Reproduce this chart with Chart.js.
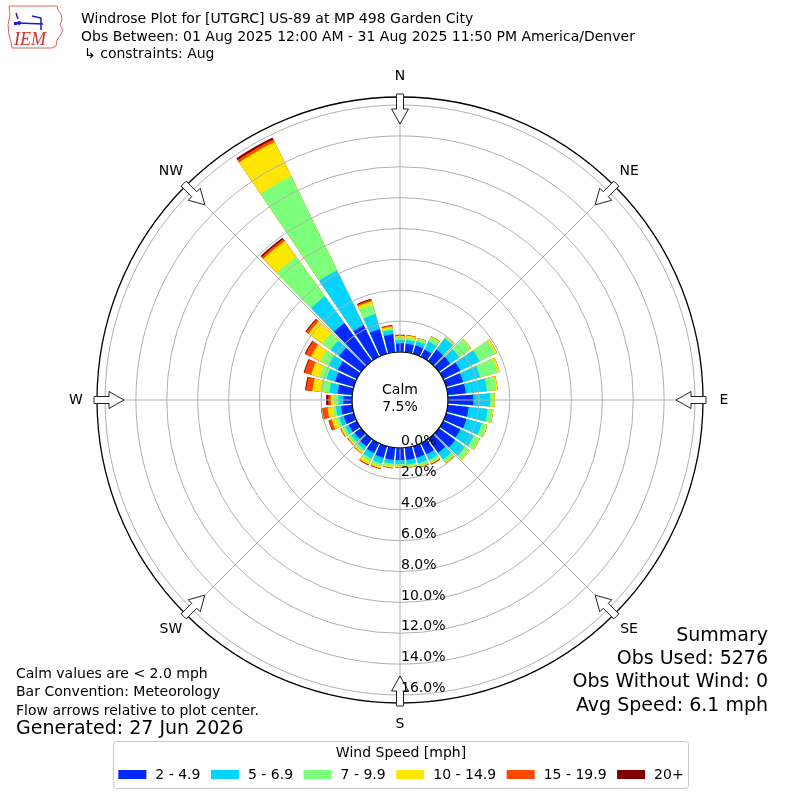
<!DOCTYPE html>
<html><head><meta charset="utf-8">
<script src="https://cdn.jsdelivr.net/npm/chart.js@4.4.1/dist/chart.umd.min.js"></script>
<style>html,body{margin:0;padding:0;background:#fff}canvas{display:block}</style>
</head><body>
<canvas id="c" width="800" height="800"></canvas>
<script>
// ---- data ----
const directions = [0,10,20,30,40,50,60,70,80,90,100,110,120,130,140,150,160,170,180,190,200,210,220,230,240,250,260,270,280,290,300,310,320,330,340,350];
const speedBins = ['2 - 4.9','5 - 6.9','7 - 9.9','10 - 14.9','15 - 19.9','20+'];
const pct2to5   = [0.56,0.55,0.56,0.52,0.91,0.91,1.23,1.14,1.17,1.64,1.36,1.36,1.23,1.30,1.10,0.80,0.78,0.78,0.78,0.78,0.78,0.71,0.58,0.52,0.58,0.68,0.73,0.56,0.95,1.26,1.36,1.75,3.04,2.27,1.67,1.17];
const pct5to7   = [0.21,0.24,0.28,0.58,0.91,0.71,1.39,1.15,1.38,1.08,1.23,1.04,0.97,0.78,0.55,0.40,0.39,0.32,0.26,0.26,0.39,0.39,0.26,0.26,0.26,0.30,0.33,0.32,0.54,0.58,0.69,0.68,2.14,3.95,1.01,0.28];
const pct7to10  = [0.18,0.16,0.19,0.32,0.06,0.91,1.13,1.18,0.60,0.21,0.32,0.32,0.39,0.32,0.20,0.20,0.19,0.13,0.13,0.16,0.19,0.23,0.19,0.19,0.19,0.23,0.22,0.28,0.55,0.45,0.57,0.68,3.17,6.80,0.64,0.11];
const pct10to15 = [0.08,0.14,0.03,0.06,0.06,0.06,0.13,0.13,0.10,0.11,0.06,0.06,0.06,0.06,0.07,0.07,0.06,0.06,0.06,0.10,0.13,0.19,0.10,0.10,0.10,0.28,0.33,0.21,0.55,0.58,0.68,1.10,1.26,2.46,0.23,0.11];
const pct15to20 = [0.07,0.02,0.01,0.01,0,0,0,0,0,0,0,0,0,0,0.01,0.06,0.03,0.02,0.02,0.03,0.05,0.06,0.03,0.03,0.03,0.19,0.40,0.16,0.42,0.46,0.39,0.19,0.16,0.19,0.10,0.08];
const pct20plus = [0.02,0.01,0.01,0.01,0,0,0,0,0,0,0,0,0,0,0.01,0.02,0.01,0.01,0.01,0.01,0.01,0.02,0.01,0.01,0.02,0.03,0.03,0.15,0.06,0.05,0.06,0.06,0.10,0.13,0.06,0.02];
const calmPct = 7.5;
const tickValues = [0,2,4,6,8,10,12,14,16];
const compassLabels = ['N','NE','E','SE','S','SW','W','NW'];
const titleLines = ['Windrose Plot for [UTGRC] US-89 at MP 498 Garden City',
  'Obs Between: 01 Aug 2025 12:00 AM - 31 Aug 2025 11:50 PM America/Denver',
  '\u21b3 constraints: Aug'];
const summaryLines = ['Summary','Obs Used: 5276','Obs Without Wind: 0','Avg Speed: 6.1 mph'];
const noteLines = ['Calm values are < 2.0 mph','Bar Convention: Meteorology','Flow arrows relative to plot center.'];
const generatedText = 'Generated: 27 Jun 2026';
const legendTitle = 'Wind Speed [mph]';

// ---- styling ----
const binColors = ['#0028ff','#00d4ff','#7cff7a','#ffe600','#ff4800','#800000'];
const rMin = -3.11, rMax = 16.52;
const barWidthDeg = 8.2;
const FONT = '"DejaVu Sans", sans-serif';

const bins = [pct2to5,pct5to7,pct7to10,pct10to15,pct15to20,pct20plus];
const cumulative = bins.map((_, k) => directions.map((d, i) => {
  let s = 0; for (let j = 0; j <= k; j++) s += bins[j][i]; return s;
}));

const toRad = d => d * Math.PI / 180;

const gapPlugin = {
  id: 'gap',
  afterDatasetsUpdate(chart) {
    const shrink = toRad((360 / directions.length - barWidthDeg) / 2);
    chart.data.datasets.forEach((ds, i) => {
      chart.getDatasetMeta(i).data.forEach(el => { el.startAngle += shrink; el.endAngle -= shrink; });
    });
  },
  afterDatasetsDraw(chart) {
    const s = chart.scales.r, ctx = chart.ctx;
    const r0 = s.getDistanceFromCenterForValue(0);
    ctx.save(); ctx.fillStyle = '#fff';
    ctx.beginPath(); ctx.arc(s.xCenter, s.yCenter, r0, 0, Math.PI*2); ctx.fill();
    ctx.restore();
  }
};

function polar(s, deg, r) {
  return [s.xCenter + r * Math.sin(toRad(deg)), s.yCenter - r * Math.cos(toRad(deg))];
}

function drawLogo(ctx) {
  ctx.save();
  ctx.strokeStyle = '#e06060'; ctx.lineWidth = 1;
  const pts = [[9,6],[57,6],[58,10],[61,14],[62,20],[60,25],[63,30],[60,36],[57,40],[56,46],[52,48],[12,48],[11,42],[9,35],[8,25],[10,15]];
  ctx.beginPath(); pts.forEach((p,i)=> i?ctx.lineTo(p[0],p[1]):ctx.moveTo(p[0],p[1])); ctx.closePath(); ctx.stroke();
  ctx.strokeStyle = '#1a1acc'; ctx.fillStyle = '#1a1acc'; ctx.lineWidth = 1.5;
  ctx.beginPath(); ctx.moveTo(18,23); ctx.lineTo(43,24); ctx.stroke();
  ctx.beginPath(); ctx.arc(19,23,2,0,Math.PI*2); ctx.fill();
  ctx.beginPath(); ctx.moveTo(16,13); ctx.lineTo(18,19); ctx.stroke();
  ctx.beginPath(); ctx.moveTo(32,16); ctx.lineTo(41,18); ctx.lineTo(41,24); ctx.stroke();
  ctx.beginPath(); ctx.moveTo(41,24); ctx.lineTo(41,30); ctx.stroke();
  ctx.fillRect(14,22,3,3);
  ctx.fillStyle = '#d03030';
  ctx.font = 'italic 18px "Liberation Serif", serif';
  ctx.textBaseline = 'alphabetic'; ctx.textAlign = 'left';
  ctx.fillText('IEM', 14, 45);
  ctx.restore();
}

const decorPlugin = {
  id: 'decor',
  afterDraw(chart) {
    const s = chart.scales.r, ctx = chart.ctx;
    const r0 = s.getDistanceFromCenterForValue(0);
    const rOut = s.getDistanceFromCenterForValue(rMax);
    ctx.save();
    // angle grid lines
    ctx.strokeStyle = '#b0b0b0'; ctx.lineWidth = 1;
    for (let k = 0; k < 8; k++) {
      const a = polar(s, k*45, r0), b = polar(s, k*45, rOut);
      ctx.beginPath(); ctx.moveTo(a[0], a[1]); ctx.lineTo(b[0], b[1]); ctx.stroke();
    }
    // calm circle edge
    ctx.strokeStyle = '#000'; ctx.lineWidth = 1.2;
    ctx.beginPath(); ctx.arc(s.xCenter, s.yCenter, r0, 0, Math.PI*2); ctx.stroke();
    // arrows
    for (let k = 0; k < 8; k++) {
      const th = toRad(k*45);
      const ux = Math.sin(th), uy = -Math.cos(th), vx = Math.cos(th), vy = Math.sin(th);
      const tip = rOut - 27, hb = rOut - 12, tail = rOut + 3, hw = 8.5, sw = 3.5;
      const local = [[tip,0],[hb,hw],[hb,sw],[tail,sw],[tail,-sw],[hb,-sw],[hb,-hw]];
      ctx.beginPath();
      local.forEach((p,i) => {
        const x = s.xCenter + p[0]*ux + p[1]*vx, y = s.yCenter + p[0]*uy + p[1]*vy;
        i ? ctx.lineTo(x,y) : ctx.moveTo(x,y);
      });
      ctx.closePath();
      ctx.fillStyle = '#fff'; ctx.fill();
      ctx.strokeStyle = '#222'; ctx.lineWidth = 1; ctx.stroke();
    }
    // compass labels
    ctx.fillStyle = '#000'; ctx.font = '14px ' + FONT;
    ctx.textAlign = 'center'; ctx.textBaseline = 'middle';
    compassLabels.forEach((lab, k) => {
      const p = polar(s, k*45, rOut + 21);
      ctx.fillText(lab, p[0], p[1]);
    });
    // radial tick labels
    ctx.textAlign = 'left';
    tickValues.forEach(v => {
      const r = s.getDistanceFromCenterForValue(v);
      ctx.fillText(v.toFixed(1) + '%', s.xCenter + 1, s.yCenter + r - 6.5);
    });
    // calm text
    ctx.textAlign = 'center';
    ctx.fillText('Calm', s.xCenter, s.yCenter - 10);
    ctx.fillText(calmPct.toFixed(1) + '%', s.xCenter, s.yCenter + 7);
    // title
    ctx.textAlign = 'left';
    ctx.fillText(titleLines[0], 81, 19);
    ctx.fillText(titleLines[1], 81, 37);
    ctx.fillText(titleLines[2], 84, 54);
    // notes
    noteLines.forEach((t, i) => ctx.fillText(t, 16, 674 + i*18.5));
    ctx.font = '19px ' + FONT;
    ctx.fillText(generatedText, 16, 729);
    // summary
    ctx.textAlign = 'right';
    summaryLines.forEach((t, i) => ctx.fillText(t, 768, 636 + i*23.2));
    // legend
    ctx.font = '14px ' + FONT;
    const patchW = 28, patchH = 9, padT = 9, gap = 10.5;
    const widths = speedBins.map(t => ctx.measureText(t).width);
    let total = 0; widths.forEach(w => total += patchW + padT + w); total += gap*(speedBins.length-1);
    const bx0 = 113.5, bx1 = 688.5, by0 = 741.5, by1 = 788.5;
    ctx.beginPath();
    if (ctx.roundRect) ctx.roundRect(bx0, by0, bx1-bx0, by1-by0, 3); else ctx.rect(bx0, by0, bx1-bx0, by1-by0);
    ctx.fillStyle = 'rgba(255,255,255,0.8)'; ctx.fill();
    ctx.strokeStyle = '#cccccc'; ctx.lineWidth = 1; ctx.stroke();
    ctx.fillStyle = '#000'; ctx.textAlign = 'center';
    ctx.fillText(legendTitle, 401, 753);
    let x = (bx0 + bx1)/2 - total/2;
    ctx.textAlign = 'left';
    speedBins.forEach((t, i) => {
      ctx.fillStyle = binColors[i];
      ctx.fillRect(x, 770, patchW, patchH);
      ctx.fillStyle = '#000';
      ctx.fillText(t, x + patchW + padT, 775);
      x += patchW + padT + widths[i] + gap;
    });
    ctx.restore();
    drawLogo(ctx);
  }
};

Chart.defaults.font.family = FONT;
new Chart(document.getElementById('c'), {
  type: 'polarArea',
  data: {
    labels: directions.map(d => d + '\u00b0'),
    datasets: cumulative.map((data, k) => ({
      label: speedBins[k], data, backgroundColor: binColors[k], borderWidth: 0
    }))
  },
  options: {
    responsive: false, animation: false, devicePixelRatio: 1,
    layout: { padding: 97 },
    events: [],
    plugins: { legend: { display: false }, tooltip: { enabled: false } },
    scales: {
      r: {
        type: 'radialLinear', min: rMin, max: rMax, startAngle: -5,
        afterBuildTicks: sc => { sc.ticks = [rMin, ...tickValues, rMax].map(v => ({ value: v })); },
        ticks: { display: false, z: 1 },
        grid: {
          circular: true, z: 1,
          color: c => (c.tick && c.tick.value === rMax) ? '#000' : ((c.tick && c.tick.value < 0) ? 'rgba(0,0,0,0)' : '#b0b0b0'),
          lineWidth: c => (c.tick && c.tick.value === rMax) ? 1.3 : 1
        },
        angleLines: { display: false },
        pointLabels: { display: false }
      }
    }
  },
  plugins: [gapPlugin, decorPlugin]
});
</script>
</body></html>
